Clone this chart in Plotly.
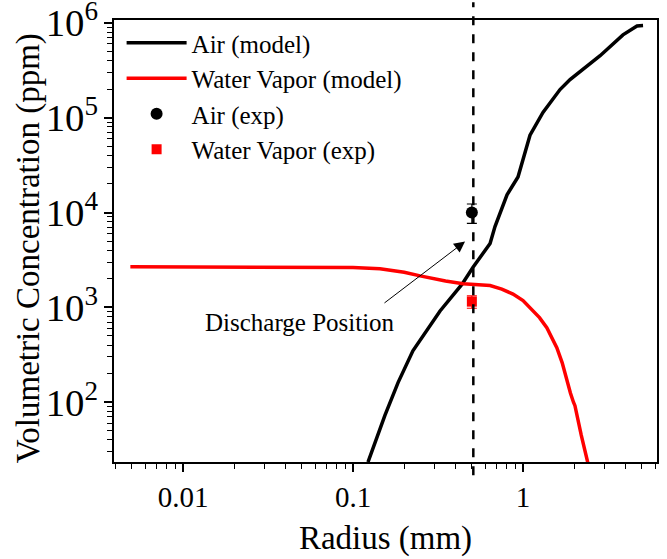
import numpy as np
import plotly.graph_objects as go

# ---- data ----
air_model_r = [0.1225, 0.154, 0.184, 0.225, 0.325, 0.438, 0.508, 0.640, 0.684, 0.762,
               0.805, 0.934, 0.986, 1.099, 1.31, 1.65, 1.89, 2.84, 3.87, 4.68, 5.08]
air_model_c = [23.4, 72.8, 161, 349, 916, 1757, 2650, 4720, 7110, 12390,
               15400, 23700, 34100, 65300, 113800, 198000, 252000, 450000, 747000, 927000, 935000]

wv_model_r = [0.0049, 0.01, 0.02, 0.05, 0.1, 0.144, 0.2, 0.248, 0.3, 0.35, 0.444, 0.508,
              0.64, 0.75, 0.873, 1.0, 1.10, 1.25, 1.38, 1.58, 1.7, 1.8, 1.9, 1.98, 2.02,
              2.2, 2.4, 2.45]
wv_model_c = [2680, 2680, 2680, 2670, 2630, 2560, 2350, 2150, 2000, 1900, 1780, 1740,
              1700, 1560, 1380, 1180, 985, 780, 610, 376, 260, 175, 125, 100, 92,
              45, 23, 20]

air_exp_r = [0.5]
air_exp_c = [10000]
air_exp_err = [2300]

wv_exp_r = [0.5]
wv_exp_c = [1150]
wv_exp_err = [170]

discharge_r = 0.51

FONT = "Liberation Serif, Times New Roman, serif"

fig = go.Figure()
fig.add_trace(go.Scatter(x=air_model_r, y=air_model_c, mode="lines", name="Air (model)",
                         line=dict(color="black", width=3.5)))
fig.add_trace(go.Scatter(x=wv_model_r, y=wv_model_c, mode="lines", name="Water Vapor (model)",
                         line=dict(color="#ff0000", width=3.5)))
fig.add_trace(go.Scatter(x=air_exp_r, y=air_exp_c, mode="markers", name="Air (exp)",
                         marker=dict(symbol="circle", size=12, color="black"),
                         error_y=dict(type="data", array=air_exp_err, color="black",
                                      thickness=1.2, width=5)))
fig.add_trace(go.Scatter(x=wv_exp_r, y=wv_exp_c, mode="markers", name="Water Vapor (exp)",
                         marker=dict(symbol="square", size=10, color="#ff0000"),
                         error_y=dict(type="data", array=wv_exp_err, color="#ff0000",
                                      thickness=1.2, width=5)))

fig.add_shape(type="line", xref="x", yref="paper", x0=discharge_r, x1=discharge_r,
              y0=-0.03, y1=1.04, line=dict(color="black", width=2.5, dash="dash"))

fig.add_annotation(x=np.log10(0.456), y=np.log10(4950), ax=np.log10(0.150), ay=np.log10(1084),
                   xref="x", yref="y", axref="x", ayref="y", text="", showarrow=True,
                   arrowhead=2, arrowsize=2.2, arrowwidth=1, arrowcolor="black")
fig.add_annotation(x=np.log10(0.049), y=np.log10(690), xref="x", yref="y",
                   text="Discharge Position", showarrow=False,
                   font=dict(family=FONT, size=25, color="black"))
# y-axis title
fig.add_annotation(x=-0.158, y=0.484, xref="paper", yref="paper", xanchor="center", yanchor="middle",
                   text="Volumetric Concentration (ppm)", textangle=-90, showarrow=False,
                   font=dict(family=FONT, size=33, color="black"))

fig.update_layout(
    width=667, height=559,
    margin=dict(l=114, r=10, t=20, b=97),
    paper_bgcolor="white", plot_bgcolor="white",
    font=dict(family=FONT, color="black"),
    showlegend=True,
    legend=dict(x=0.014, y=1.0, xanchor="left", yanchor="top",
                bgcolor="rgba(0,0,0,0)", font=dict(family=FONT, size=25),
                tracegroupgap=0, itemwidth=60),
    xaxis=dict(type="log", range=[-2.406, 0.788], dtick=1, exponentformat="none",
               showline=True, linecolor="black", linewidth=1.5, mirror=True,
               ticks="outside", ticklen=8, tickwidth=1.5, tickcolor="black",
               minor=dict(ticks="outside", ticklen=5, tickwidth=1.2, tickcolor="black", showgrid=False),
               showgrid=False, zeroline=False, automargin=False,
               tickfont=dict(family=FONT, size=29),
               title=dict(text="Radius (mm)", font=dict(family=FONT, size=33), standoff=14)),
    yaxis=dict(type="log", range=[1.37, 6.03], dtick=1, exponentformat="power",
               showline=True, linecolor="black", linewidth=1.5, mirror=True,
               ticks="outside", ticklen=8, tickwidth=1.5, tickcolor="black",
               minor=dict(ticks="outside", ticklen=5, tickwidth=1.2, tickcolor="black", showgrid=False),
               showgrid=False, zeroline=False, ticklabeloverflow="allow", automargin=False,
               tickfont=dict(family=FONT, size=31)),
)

fig.write_html("out.html")
